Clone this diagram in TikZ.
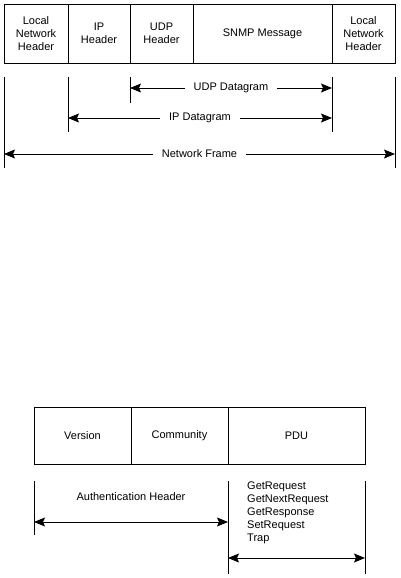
\documentclass[tikz,border=0pt]{standalone}
\usepackage{fontspec}
\setmainfont{Liberation Sans}
\usetikzlibrary{arrows.meta,positioning}

\begin{document}
\begin{tikzpicture}[
    x=1pt, y=-1pt,
    cell/.style={draw, line width=0.9pt, inner sep=0pt, align=center, font=\fontsize{11}{13.2}\selectfont},
    tick/.style={line width=0.9pt},
    span/.style={{Stealth[length=11pt,width=9pt,inset=2pt]}-{Stealth[length=11pt,width=9pt,inset=2pt]}, line width=0.9pt},
    label/.style={fill=white, inner xsep=9pt, inner ysep=1pt, font=\fontsize{11}{13}\selectfont},
]
\useasboundingbox (0,0) rectangle (400,578);

% SNMP message inside a network frame
\node[cell, minimum width=64pt, minimum height=59pt] (lnh1) at (36,33.5) {Local\\Network\\Header};
\node[cell, minimum width=62pt, minimum height=59pt] (iph) at (99,33.5) {IP\\Header};
\node[cell, minimum width=63pt, minimum height=59pt] (udph) at (161.5,33.5) {UDP\\Header};
\node[cell, minimum width=139pt, minimum height=59pt] (snmp) at (262.5,33.5) {SNMP Message};
\node[cell, minimum width=63pt, minimum height=59pt] (lnh2) at (363.5,33.5) {Local\\Network\\Header};

% Extent ticks
\coordinate (f0) at (4,77);   \coordinate (f1) at (4,168);
\coordinate (i0) at (68,77);  \coordinate (i1) at (68,132);
\coordinate (u0) at (130,77); \coordinate (u1) at (130,103);
\coordinate (s0) at (332,77); \coordinate (s1) at (332,132);
\coordinate (e0) at (395,77); \coordinate (e1) at (395,168);
\foreach \m in {f,i,u,s,e}
  \draw[tick] (\m0) -- (\m1);

% Spans
\coordinate (ua) at (130,88);  \coordinate (ub) at (332,88);
\coordinate (ia) at (68,118);  \coordinate (ib) at (332,118);
\coordinate (fa) at (4,154);   \coordinate (fb) at (395,154);
\draw[span] (ua) -- node[label] {UDP Datagram} (ub);
\draw[span] (ia) -- node[label] {IP Datagram} (ib);
\draw[span] (fa) -- node[label] {Network Frame} (fb);

% SNMP message format
\node[cell, minimum width=97pt, minimum height=57pt] (ver) at (82.5,435.5) {Version};
\node[cell, minimum width=97pt, minimum height=57pt] (comm) at (179.5,435.5) {Community};
\node[cell, minimum width=137pt, minimum height=57pt] (pdu) at (296.5,435.5) {PDU};

\coordinate (v0) at (34,481);  \coordinate (v1) at (34,535);
\coordinate (p0) at (228,481); \coordinate (p1) at (228,574);
\coordinate (q0) at (365,481); \coordinate (q1) at (365,574);
\foreach \m in {v,p,q}
  \draw[tick] (\m0) -- (\m1);

\coordinate (aa) at (34,522);  \coordinate (ab) at (228,522);
\coordinate (pa) at (228,558); \coordinate (pb) at (365,558);
\draw[span] (aa) -- (ab);
\draw[span] (pa) -- (pb);

\node[font=\fontsize{11}{13}\selectfont] (auth) at (131,497) {Authentication Header};
\node[anchor=north west, align=left, inner sep=0pt, font=\fontsize{11}{13}\selectfont] (types) at (247,482)
  {GetRequest\\GetNextRequest\\GetResponse\\SetRequest\\Trap};

\end{tikzpicture}
\end{document}
